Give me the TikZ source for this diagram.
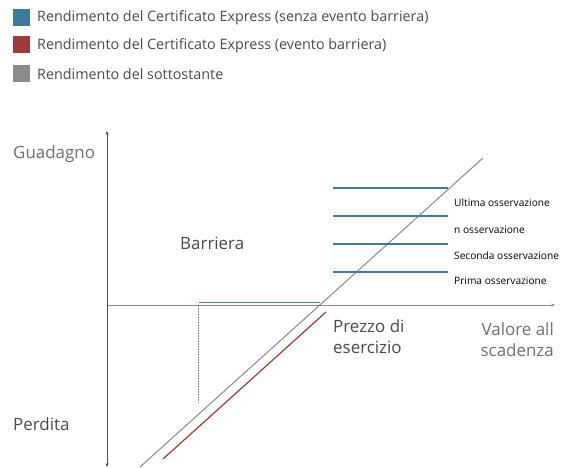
\documentclass[tikz,border=0pt]{standalone}
\usepackage{fontspec}
\setmainfont{Open Sans}
\usetikzlibrary{arrows.meta}
\definecolor{cblue}{HTML}{3D7A9C}
\definecolor{cred}{HTML}{A03A38}
\definecolor{cgray}{HTML}{8A8A8A}
\definecolor{ctext}{HTML}{4A4A4A}
\definecolor{clight}{HTML}{6E6E6E}
\tikzset{
  legsq/.style={minimum size=17bp, inner sep=0pt, draw=none},
  legtxt/.style={anchor=west, inner sep=0pt, text=ctext, font=\fontsize{14.4}{16}\selectfont},
  biglbl/.style={inner sep=0pt, text=ctext, font=\fontsize{17}{21.5}\selectfont, align=left},
  obslbl/.style={anchor=west, inner sep=0pt, text=black, font=\fontsize{10.2}{12}\selectfont},
  axis/.style={line width=0.8bp, -{Stealth[length=4bp,width=3bp]}},
  obsline/.style={draw=cblue, line width=1.2bp},
}
\begin{document}
\begin{tikzpicture}[x=1bp,y=-1bp]
\useasboundingbox (0,0) rectangle (567,468);
% legend
\node[legsq, fill=cblue] (s1) at (21.5,17.5) {};
\node[legsq, fill=cred] (s2) at (21.5,45) {};
\node[legsq, fill=cgray] (s3) at (21.5,73.5) {};
\node[legtxt] (l1) at (37,17.5) {Rendimento del Certificato Express (senza evento barriera)};
\node[legtxt] (l2) at (37,45.5) {Rendimento del Certificato Express (evento barriera)};
\node[legtxt] (l3) at (37,74) {Rendimento del sottostante};
% axes
\coordinate (o) at (107,305);
\coordinate (ytop) at (107,131);
\coordinate (ybot) at (107,467);
\coordinate (xend) at (555,305);
\coordinate (xstart) at (107,305);
\draw[axis, draw=cgray] (xstart) -- (xend);
\draw[axis, draw=black!70] (o) -- (ytop);
\draw[axis, draw=black!70] (o) -- (ybot);
% barrier
\coordinate (b0) at (199,302.8);
\coordinate (b1) at (320,302.8);
\coordinate (d0) at (198,306);
\coordinate (d1) at (198,402);
\draw[obsline] (b0) -- (b1);
\draw[densely dotted, cgray, line width=0.6bp] (d0) -- (d1);
% underlying
\coordinate (u0) at (140,467);
\coordinate (u1) at (483,158);
\draw[cgray, line width=1bp] (u0) -- (u1);
% red
\coordinate (r0) at (163,459);
\coordinate (r1) at (326,312);
\draw[cred, line width=1.2bp] (r0) -- (r1);
% observation lines
\coordinate (oa0) at (333,188); \coordinate (oa1) at (448,188);
\coordinate (ob0) at (333,216); \coordinate (ob1) at (448,216);
\coordinate (oc0) at (333,244); \coordinate (oc1) at (448,244);
\coordinate (od0) at (333,272); \coordinate (od1) at (448,272);
\draw[obsline] (oa0) -- (oa1);
\draw[obsline] (ob0) -- (ob1);
\draw[obsline] (oc0) -- (oc1);
\draw[obsline] (od0) -- (od1);
\node[obslbl] (t1) at (454,203) {Ultima osservazione};
\node[obslbl] (t2) at (454,229.5) {n osservazione};
\node[obslbl] (t3) at (454,255.5) {Seconda osservazione};
\node[obslbl] (t4) at (454,280.5) {Prima osservazione};
% big labels
\node[biglbl, anchor=west, text=clight] (g) at (13,154) {Guadagno};
\node[biglbl, anchor=west] (p) at (13,424) {Perdita};
\node[biglbl, anchor=west] (bar) at (180,243) {Barriera};
\node[biglbl, anchor=north west] (pz) at (333,319) {Prezzo di\\esercizio};
\node[biglbl, anchor=north east, align=right, text=clight] (va) at (554,322) {Valore all\\scadenza};
\end{tikzpicture}
\end{document}
